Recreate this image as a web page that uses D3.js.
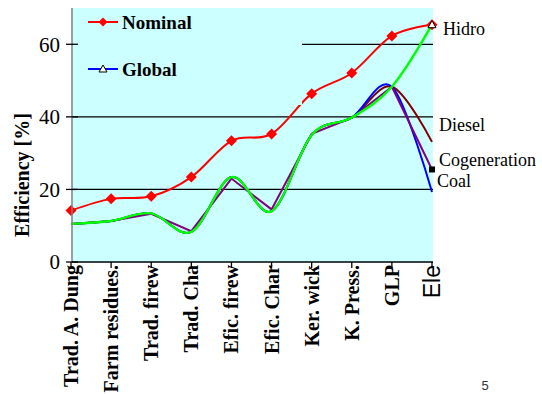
<!DOCTYPE html>
<html><head><meta charset="utf-8">
<script src="https://cdn.jsdelivr.net/npm/d3@7/dist/d3.min.js"></script>
<style>body{margin:0;background:#fff}svg{display:block}</style>
</head><body>
<svg id="c" width="542" height="394"></svg>
<script>
const categories = ["Trad. A. Dung","Farm residues.","Trad. firew","Trad. Cha","Efic. firew","Efic. Char","Ker. wick","K. Press.","GLP","Ele"];
const nominal = [14.2, 17.4, 18.1, 23.4, 33.4, 35.3, 46.4, 52.1, 62.3, 65.4];
const hidro = [10.5, 11.3, 13.4, 8.3, 23.4, 14.0, 35.0, 39.8, 48.3, 65.4];
const diesel = [10.5, 11.3, 13.4, 8.3, 23.4, 14.0, 35.0, 39.8, 48.3, 33.1];
const cogeneration = [10.5, 11.3, 13.3, 8.5, 23.0, 14.5, 35.3, 39.7, 48.3, 25.5];
const coal = [10.5, 11.3, 13.4, 8.3, 23.4, 14.0, 35.0, 39.8, 48.3, 19.3];
const yTicks = [0, 20, 40, 60];
const gridValues = [20, 40, 60];
const endLabels = ["Hidro", "Diesel", "Cogeneration", "Coal"];

const svg = d3.select("#c");
const L = 72, R = 433, T = 8, B = 262;
const x = d3.scalePoint().domain(categories).range([71, 432]);
const y = d3.scaleLinear().domain([0, 70]).range([B, T]);
const serif = "'Liberation Serif','Times New Roman',serif";

svg.append("rect").attr("x", L).attr("y", T).attr("width", R - L).attr("height", B - T).attr("fill", "#CCFFFF");

// gridlines
svg.selectAll(".grid").data(gridValues).enter().append("line")
  .attr("x1", L).attr("x2", R).attr("y1", d => y(d)).attr("y2", d => y(d))
  .attr("stroke", "#000").attr("stroke-width", 1.3);

const smooth = d3.line().x((d, i) => x(categories[i])).y(d => y(d)).curve(d3.curveCardinal.tension(0));
const straight = d3.line().x((d, i) => x(categories[i])).y(d => y(d));

const series = [
  {v: diesel, c: "#800000", gen: smooth, w: 2},
  {v: coal, c: "#0000FF", gen: smooth, w: 2},
  {v: cogeneration, c: "#800080", gen: straight, w: 2},
  {v: hidro, c: "#00FF00", gen: smooth, w: 2.4},
];
series.forEach(s => {
  svg.append("path").attr("d", s.gen(s.v)).attr("fill", "none")
    .attr("stroke", s.c).attr("stroke-width", s.w);
});

svg.append("path").attr("d", smooth(nominal)).attr("fill", "none").attr("stroke", "#FF0000").attr("stroke-width", 2);

// legend box (covers part of grid)
svg.append("rect").attr("x", L + 1).attr("y", T).attr("width", 229).attr("height", 97).attr("fill", "#CCFFFF");

const diamondPath = "M0,-5.5L5.5,0L0,5.5L-5.5,0Z";
svg.selectAll(".nm").data(nominal).enter().append("path")
  .attr("d", diamondPath)
  .attr("transform", (d, i) => `translate(${x(categories[i])},${y(d)})`)
  .attr("fill", "#FF0000");

// end markers
const tri = "M0,-4L4,3L-4,3Z";
svg.append("path").attr("d", tri)
  .attr("transform", `translate(${x(categories[9])},${y(hidro[9])})`)
  .attr("fill", "#fff").attr("stroke", "#000").attr("stroke-width", 1);
svg.append("rect").attr("x", x(categories[9]) - 3).attr("y", y(cogeneration[9]) - 3)
  .attr("width", 6).attr("height", 6).attr("fill", "#000");

// axes
svg.append("line").attr("x1", L).attr("x2", L).attr("y1", T).attr("y2", B).attr("stroke", "#808080").attr("stroke-width", 1.5);
svg.append("line").attr("x1", L).attr("x2", R).attr("y1", B).attr("y2", B).attr("stroke", "#000").attr("stroke-width", 1.3);
svg.selectAll(".yt").data(yTicks).enter().append("line")
  .attr("x1", L - 6).attr("x2", L + 6).attr("y1", d => y(d)).attr("y2", d => y(d))
  .attr("stroke", "#000").attr("stroke-width", 1.3);
svg.selectAll(".ytl").data(yTicks).enter().append("text")
  .attr("x", L - 12).attr("y", d => y(d)).attr("dy", "0.35em")
  .attr("text-anchor", "end").attr("font-family", serif).attr("font-size", 21)
  .text(d => d);
svg.selectAll(".xt").data(categories).enter().append("line")
  .attr("x1", d => x(d)).attr("x2", d => x(d)).attr("y1", B).attr("y2", B + 6)
  .attr("stroke", "#000").attr("stroke-width", 1.3);
svg.selectAll(".xtl").data(categories).enter().append("text")
  .attr("transform", d => `translate(${x(d)},${B + 3}) rotate(-90)`)
  .attr("dy", "0.35em").attr("text-anchor", "end")
  .attr("font-family", (d, i) => i === categories.length - 1 ? "'Liberation Sans',Arial,sans-serif" : serif)
  .attr("font-weight", (d, i) => i === categories.length - 1 ? "normal" : "bold")
  .attr("font-size", (d, i) => i === categories.length - 1 ? 23 : 20)
  .text(d => d);

svg.append("text").attr("transform", `translate(22,175) rotate(-90)`).attr("dy", "0.35em")
  .attr("text-anchor", "middle").attr("font-family", serif).attr("font-weight", "bold").attr("font-size", 20)
  .text("Efficiency [%]");

// legend
svg.append("line").attr("x1", 88).attr("x2", 118).attr("y1", 22).attr("y2", 22).attr("stroke", "#FF0000").attr("stroke-width", 2);
svg.append("path").attr("d", "M0,-4.5L4.5,0L0,4.5L-4.5,0Z").attr("transform", "translate(103,22)").attr("fill", "#FF0000");
svg.append("text").attr("x", 122).attr("y", 29).attr("font-family", serif).attr("font-weight", "bold").attr("font-size", 19).text("Nominal");
svg.append("line").attr("x1", 88).attr("x2", 118).attr("y1", 69).attr("y2", 69).attr("stroke", "#0000FF").attr("stroke-width", 2);
svg.append("path").attr("d", tri).attr("transform", "translate(103,69)").attr("fill", "#fff").attr("stroke", "#000").attr("stroke-width", 1);
svg.append("text").attr("x", 122).attr("y", 76).attr("font-family", serif).attr("font-weight", "bold").attr("font-size", 19).text("Global");

// end labels
const endVals = [hidro[9], diesel[9], cogeneration[9], coal[9]];
const endOff = [10, -11, -3, -5];
const endX = [443, 439, 439, 437];
endLabels.forEach((t, i) => {
  svg.append("text").attr("x", endX[i]).attr("y", y(endVals[i]) + endOff[i])
    .attr("font-family", serif).attr("font-size", 18).text(t);
});

svg.append("text").attr("x", 485).attr("y", 390).attr("text-anchor", "middle")
  .attr("font-family", "'Liberation Sans',Arial,sans-serif").attr("font-size", 13).attr("fill", "#333").text("5");
</script>
</body></html>
